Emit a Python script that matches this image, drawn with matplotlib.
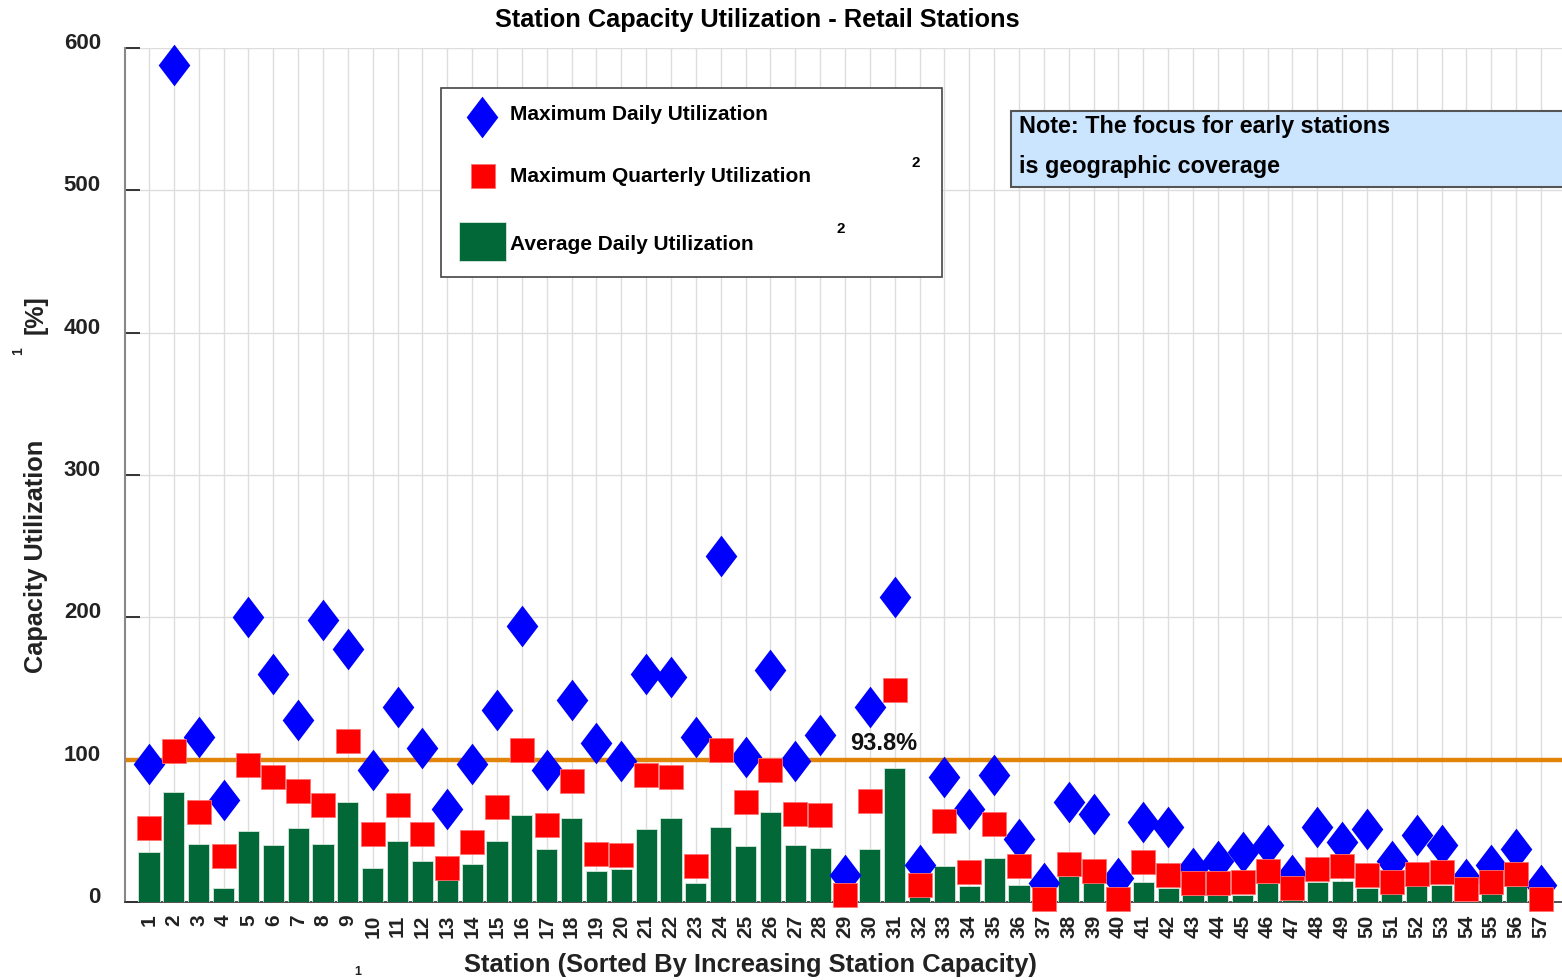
import matplotlib
matplotlib.use("Agg")
import matplotlib.pyplot as plt
import matplotlib.transforms as mtransforms
import numpy as np
from matplotlib.path import Path
from matplotlib.patches import Rectangle
from matplotlib.lines import Line2D

# station data (sorted by increasing station capacity)
stations = list(range(1, 58))
max_daily = [97, 588, 116, 72, 200, 160, 128, 198, 178, 93, 137, 108, 65, 97, 135, 194, 93, 142, 112, 99,
             160, 158, 116, 243, 102, 163, 99, 117, 19, 137, 214, 26, 88, 65, 89, 44, 13, 70, 62, 17,
             56, 53, 24, 29, 35, 40, 19, 53, 42, 51, 29, 47, 40, 16, 26, 37, 12]
max_quarterly = [52, 106, 63, 32, 96, 88, 78, 68, 113, 48, 68, 48, 24, 42, 67, 107, 54, 85, 34, 33,
                 89, 88, 25, 107, 70, 93, 62, 61, 5, 71, 149, 12, 57, 21, 55, 25, 2, 27, 22, 2,
                 28, 19, 13, 13, 14, 22, 10, 23, 25, 19, 14, 20, 21, 9, 14, 20, 2]
avg_daily = [35, 77, 41, 10, 50, 40, 52, 41, 70, 24, 43, 29, 16, 27, 43, 61, 37, 59, 22, 23,
             51, 59, 13, 53, 39, 63, 40, 38, 2, 37, 93.8, 5, 25, 11, 31, 12, 1, 18, 14, 1,
             14, 10, 5, 5, 5, 13, 2, 14, 15, 10, 6, 12, 12, 1, 6, 11, 1]
target_line = 100
yticks = [0, 100, 200, 300, 400, 500, 600]

BLUE = "#0000ff"
RED = "#ff0000"
GREEN = "#036837"
ORANGE = "#e0850a"
INK = "#222222"

plt.rcParams["font.family"] = ["Liberation Sans", "DejaVu Sans"]
plt.rcParams["font.weight"] = "bold"

W, H = 1562, 980
fig = plt.figure(figsize=(W / 100, H / 100), dpi=100)
ax = fig.add_axes([124.5 / W, 78 / H, (W - 124.5) / W, (902 - 48) / H])

# slightly taller than wide diamond
diamond = Path([(0, 1), (0.76, 0), (0, -1), (-0.76, 0), (0, 1)],
               [Path.MOVETO, Path.LINETO, Path.LINETO, Path.LINETO, Path.CLOSEPOLY])

x = np.array(stations)
ax.bar(x, avg_daily, width=0.85, color=GREEN, edgecolor="#d8e8dd", linewidth=0.6, zorder=3)
ax.axhline(target_line, color=ORANGE, linewidth=3.2, zorder=2.5)
ax.plot(x, max_daily, linestyle="none", marker=diamond, markersize=30,
        color=BLUE, markeredgewidth=0, zorder=4, clip_on=False)
ax.plot(x, max_quarterly, linestyle="none", marker="s", markersize=17.3,
        markerfacecolor=RED, markeredgecolor="#ff7070", markeredgewidth=0.6, zorder=5, clip_on=False)

peak = int(np.argmax(avg_daily))
ax.annotate(f"{avg_daily[peak]:.1f}%", (x[peak], avg_daily[peak]), xytext=(-8, 18),
            textcoords="offset points", ha="center", va="center",
            fontsize=17, fontweight="bold", color="#111111", zorder=6)

ax.set_xlim(0.0145, 57.845)
ax.set_ylim(0, 600)
ax.set_xticks(x)
ax.set_xticklabels([str(s) for s in stations], rotation=90, fontsize=15,
                   fontweight="bold", color=INK)
ax.set_yticks(yticks)
ax.set_yticklabels([str(v) for v in yticks], fontsize=16, fontweight="bold", color=INK)
ax.tick_params(axis="x", length=0, pad=9)
ax.tick_params(axis="y", direction="in", length=11, width=1.4, color="#333333", pad=17)
# y labels sit a little above their ticks
lift = mtransforms.ScaledTranslation(0, 7 / 100, fig.dpi_scale_trans)
for lbl in ax.get_yticklabels():
    lbl.set_transform(lbl.get_transform() + lift)
ax.grid(True, color="#dddddd", linewidth=1, zorder=0)
ax.set_axisbelow(True)
for side in ("top", "right"):
    ax.spines[side].set_visible(False)
ax.spines["left"].set_color("#888888")
ax.spines["left"].set_linewidth(1.5)
ax.spines["bottom"].set_color("#333333")
ax.spines["bottom"].set_linewidth(1.2)

# overlay in pixel units for titles, legend and note
ov = fig.add_axes([0, 0, 1, 1], zorder=10)
ov.set_xlim(0, W)
ov.set_ylim(H, 0)
ov.axis("off")
ov.patch.set_alpha(0)

ov.text(757, 20, "Station Capacity Utilization - Retail Stations", ha="center", va="center",
        fontsize=18.3, fontweight="bold", color="black")
ov.text(750, 965, "Station (Sorted By Increasing Station Capacity)", ha="center", va="center",
        fontsize=18.4, fontweight="bold", color=INK)
ov.text(358, 966, "1", ha="center", va="top", fontsize=9, fontweight="bold", color=INK)
ov.text(36, 556, "Capacity Utilization", ha="center", va="center", rotation=90,
        fontsize=18.3, fontweight="bold", color=INK)
ov.text(36, 315, "[%]", ha="center", va="center", rotation=90,
        fontsize=18, fontweight="bold", color=INK)
ov.text(18, 351, "1", ha="center", va="center", rotation=90,
        fontsize=10, fontweight="bold", color=INK)

# legend box
ov.add_patch(Rectangle((441, 88), 501, 189, facecolor="white", edgecolor="#444444", linewidth=1.2))
ov.add_line(Line2D([482], [117], marker=diamond, markersize=30, color=BLUE, markeredgewidth=0))
ov.add_line(Line2D([483], [176], marker="s", markersize=17.3, markerfacecolor=RED,
                   markeredgecolor="#ff7070", markeredgewidth=0.6))
ov.add_patch(Rectangle((459, 222), 47, 39, facecolor=GREEN, edgecolor="#d8e8dd", linewidth=0.6))
ov.text(510, 115, "Maximum Daily Utilization", ha="left", va="center", fontsize=15, fontweight="bold")
ov.text(510, 176, "Maximum Quarterly Utilization", ha="left", va="center", fontsize=15, fontweight="bold")
ov.text(510, 244, "Average Daily Utilization", ha="left", va="center", fontsize=15, fontweight="bold")
ov.text(916, 163, "2", ha="center", va="center", fontsize=11, fontweight="bold")
ov.text(841, 229, "2", ha="center", va="center", fontsize=11, fontweight="bold")

# note box
ov.add_patch(Rectangle((1011, 111), 600, 76, facecolor="#cce5ff", edgecolor="#555555",
                       linewidth=1.5, clip_on=False))
ov.text(1019, 126, "Note: The focus for early stations", ha="left", va="center",
        fontsize=16.8, fontweight="bold")
ov.text(1019, 166, "is geographic coverage", ha="left", va="center",
        fontsize=16.8, fontweight="bold")

fig.savefig("out.png", dpi=100)
